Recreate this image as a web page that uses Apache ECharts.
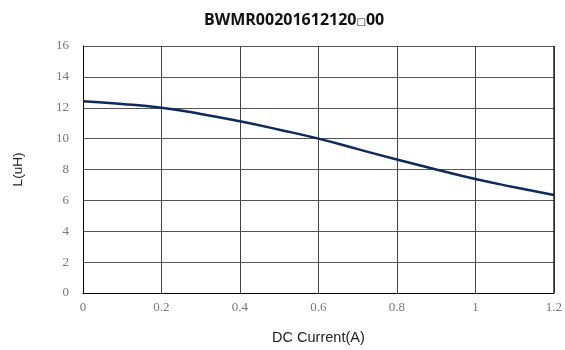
<!DOCTYPE html>
<html><head><meta charset="utf-8">
<script src="https://cdn.jsdelivr.net/npm/echarts@6/dist/echarts.min.js"></script>
<style>html,body{margin:0;padding:0;background:#fff}#c{width:565px;height:350px}</style>
</head><body><div id="c"></div>
<script>
const xValues = [0, 0.1, 0.2, 0.3, 0.4, 0.5, 0.6, 0.7, 0.8, 0.9, 1.0, 1.1, 1.2];
const lValues = [12.42, 12.25, 12.0, 11.6, 11.12, 10.58, 10.0, 9.32, 8.65, 8.0, 7.38, 6.85, 6.35];
const xTicks = [0, 0.2, 0.4, 0.6, 0.8, 1, 1.2];
const yTicks = [0, 2, 4, 6, 8, 10, 12, 14, 16];

const chart = echarts.init(document.getElementById('c'));
chart.setOption({
  animation: false,
  title: {
    text: '{a|BWMR00201612120}{b|□}{a|00}',
    left: 199, top: 7,
    textStyle: { rich: {
      a: { fontFamily: 'Open Sans', fontWeight: 'bold', fontSize: 16, color: '#111' },
      b: { fontFamily: 'DejaVu Sans', fontSize: 10, color: '#111', padding: [4, 0, 0, 0] }
    } }
  },
  grid: { left: 83, right: 9, top: 46, bottom: 54 },
  xAxis: {
    type: 'value', min: 0, max: 1.2, interval: 0.2,
    name: 'DC Current(A)', nameLocation: 'middle', nameGap: 37,
    nameTextStyle: { fontFamily: 'Liberation Sans', fontSize: 14.5, color: '#222' },
    axisLine: { lineStyle: { color: '#000', width: 1 } },
    axisTick: { show: false },
    axisLabel: { fontFamily: 'Liberation Serif', fontSize: 13, color: '#777', margin: 8,
      formatter: v => String(parseFloat(v.toFixed(1))) },
    splitLine: { show: true, lineStyle: { color: '#444', width: 1 } }
  },
  yAxis: {
    type: 'value', min: 0, max: 16, interval: 2,
    name: 'L(uH)', nameLocation: 'middle', nameGap: 58, nameRotate: 90,
    nameTextStyle: { fontFamily: 'Liberation Sans', fontSize: 13.5, color: '#222' },
    axisLine: { show: true, lineStyle: { color: '#000', width: 1 } },
    axisTick: { show: false },
    axisLabel: { fontFamily: 'Liberation Serif', fontSize: 13, color: '#777', margin: 14 },
    splitLine: { show: true, lineStyle: { color: '#555', width: 1 } }
  },
  series: [{
    type: 'line', smooth: true, symbol: 'none',
    data: xValues.map((x, i) => [x, lValues[i]]),
    lineStyle: { color: '#0d2a5c', width: 2.5 }
  }, {
    type: 'line', symbol: 'none', silent: true,
    data: [[1.2, 0], [1.2, 16]],
    lineStyle: { color: '#000', width: 1 }
  }]
});
</script></body></html>
